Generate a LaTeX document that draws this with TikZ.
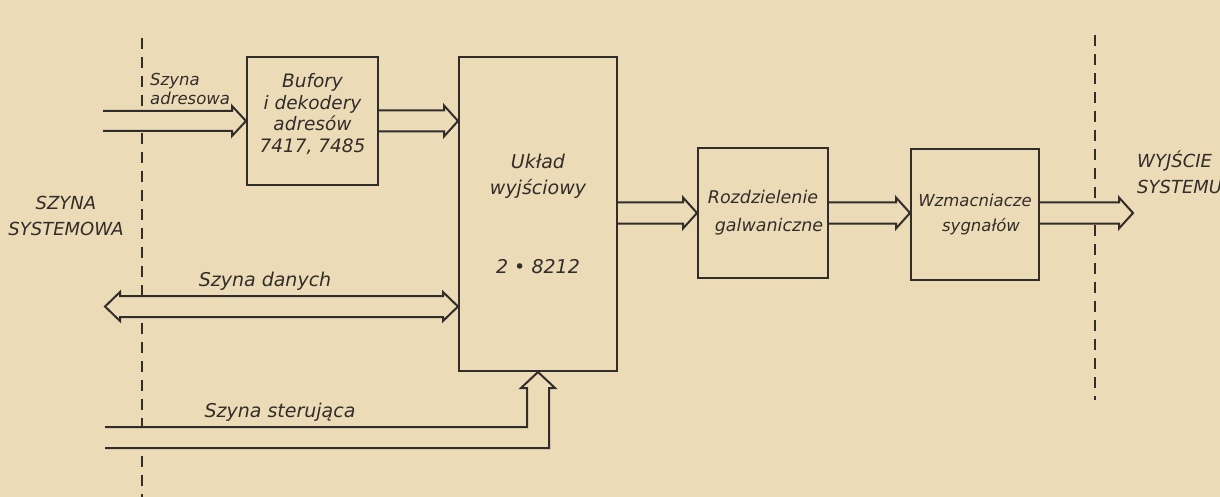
\documentclass[tikz,border=0pt]{standalone}
\usepackage{fontspec}
\setmainfont{DejaVu Sans}
\usetikzlibrary{calc}
\definecolor{paper}{RGB}{236,219,183}
\definecolor{ink}{RGB}{50,45,42}
\tikzset{
  blockbox/.style={draw=ink, line width=2pt, inner sep=0pt, align=center, text=ink, font=\fontsize{18.5}{21.7}\selectfont\itshape},
  buslabel/.style={text=ink, inner sep=0pt, font=\fontsize{19}{20}\selectfont\itshape},
  capslabel/.style={text=ink, inner sep=0pt, align=center, font=\fontsize{18}{26}\selectfont\itshape},
  busline/.style={draw=ink, fill=paper, line width=2pt},
  border/.style={draw=ink, line width=2pt, dash pattern=on 11pt off 8pt}
}
\newcommand{\busright}[3]{%
  \draw[busline] ($(#1)+(0,-#3)$) -- ($(#2)+(-14,-#3)$) -- ++(0,-5) -- (#2)
    -- ($(#2)+(-14,#3+5)$) -- ++(0,-5) -- ($(#1)+(0,#3)$);}
\begin{document}
\begin{tikzpicture}[x=1pt, y=-1pt]
  \useasboundingbox (0,0) rectangle (1220,497);
  \fill[paper] (0,0) rectangle (1220,497);
  \draw[border] (142,38) -- (142,497);
  \draw[border] (1095,35) -- (1095,400);

  \node[blockbox, minimum width=131pt, minimum height=128pt] (bufory) at (312.5,121) {Bufory\\i dekodery\\adresów\\7417, 7485\rule[-16pt]{0pt}{16pt}};
  \node[blockbox, minimum width=158pt, minimum height=314pt, font=\fontsize{19}{26}\selectfont\itshape] (uklad) at (538,214) {Układ\\wyjściowy\\[53pt]2 • 8212};
  \node[blockbox, minimum width=130pt, minimum height=130pt, font=\fontsize{17.5}{28}\selectfont\itshape] (rozdz) at (763,213) {Rozdzielenie\\\hspace*{12pt}galwaniczne};
  \node[blockbox, minimum width=128pt, minimum height=131pt, font=\fontsize{16.5}{25}\selectfont\itshape] (wzmac) at (975,214.5) {Wzmacniacze\\\hspace*{12pt}sygnałów};

  \coordinate (adrin) at (103,121);
  \coordinate (ukladin) at (uklad.west |- bufory.east);
  \coordinate (ukladout) at (uklad.east |- rozdz.west);
  \coordinate (wzmacin) at (wzmac.west |- rozdz.east);
  \coordinate (sysout) at (1133,213);
  \coordinate (wzmacout) at (wzmac.east |- sysout);
  \coordinate (datain) at (105,306.5);
  \coordinate (datatip) at (uklad.west |- datain);
  \coordinate (ctrlin) at (105,437.5);

  \busright{adrin}{bufory.west}{10}
  \busright{bufory.east}{ukladin}{10.5}
  \busright{ukladout}{rozdz.west}{10.5}
  \busright{rozdz.east}{wzmacin}{10.5}
  \busright{wzmacout}{sysout}{10.5}
  \draw[busline] ($(datain)+(15,-10.5)$) -- ($(datatip)+(-15,-10.5)$) -- ++(0,-4) -- (datatip)
    -- ($(datatip)+(-15,14.5)$) -- ++(0,-4) -- ($(datain)+(15,10.5)$) -- ++(0,4) -- (datain)
    -- ($(datain)+(15,-14.5)$) -- cycle;
  \draw[busline] ($(ctrlin)+(0,-10.5)$) -| ($(uklad.south)+(-11,16)$) -- ++(-6,0) -- (uklad.south)
    -- ($(uklad.south)+(17,16)$) -- ++(-6,0) |- ($(ctrlin)+(0,10.5)$);

  \node[buslabel, anchor=west, align=left, font=\fontsize{16.5}{19}\selectfont\itshape] (adrlabel) at (150,89) {Szyna\\adresowa};
  \node[buslabel] (datalabel) at (265,281) {Szyna danych};
  \node[buslabel] (ctrllabel) at (280,412) {Szyna sterująca};
  \node[capslabel] (syslabel) at (66,216) {SZYNA\\SYSTEMOWA};
  \node[capslabel, anchor=west, align=left] (outlabel) at (1137,172) {WYJŚCIE\\SYSTEMU};
\end{tikzpicture}
\end{document}
